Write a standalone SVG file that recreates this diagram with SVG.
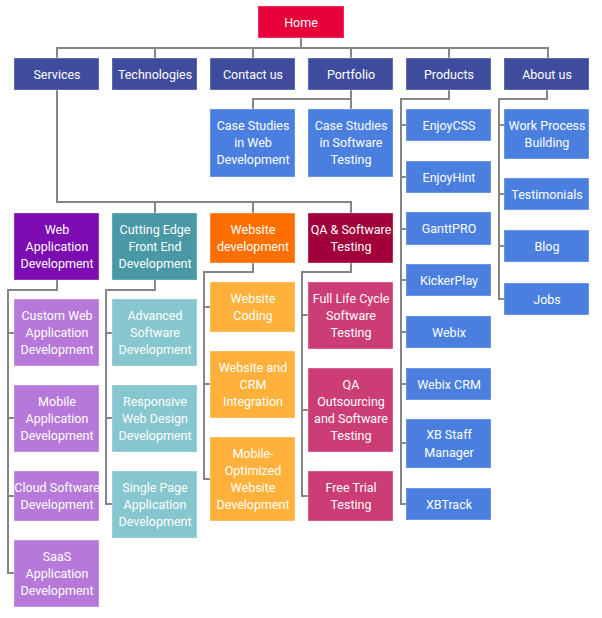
<svg xmlns="http://www.w3.org/2000/svg" width="602" height="618" viewBox="0 0 602 618">
<style>
rect{stroke:#ffffff;stroke-opacity:0.35;stroke-width:1}
text{font-family:Roboto,"Liberation Sans",sans-serif;font-size:12.5px;fill:#fff;text-anchor:middle}
.c path{fill:none;stroke:#858585;stroke-width:2}
.h{fill:#e8003a}.t{fill:#3f4c9d}.b{fill:#4a7fe0}
.p1{fill:#7c0bb1}.p2{fill:#b679d9}.q1{fill:#4898a5}.q2{fill:#86c6cf}
.o1{fill:#ff6f00}.o2{fill:#ffb13b}.m1{fill:#a2003a}.m2{fill:#cc3c75}
</style>
<g class="c">
<path d="M301 38V48M57 58V48H548V58M155 48V58M253 48V58M351 48V58M449 48V58"/>
<path d="M351 90V99H253V109M351 99V109"/>
<path d="M57 90V202H351V213M155 202V213M253 202V213"/>
<path d="M449 90V99H401V504H406M401 125H406M401 177H406M401 229H406M401 280H406M401 332H406M401 384H406M401 443H406"/>
<path d="M547 90V99H499V299H504M499 125H504M499 194H504M499 246H504"/>
<path d="M57 280V290H8V573H14M8 333H14M8 418H14M8 496H14"/>
<path d="M155 280V290H106V504H112M106 333H112M106 418H112"/>
<path d="M253 263V272H204V479H210M204 307H210M204 384H210"/>
<path d="M351 263V272H302V496H308M302 315H308M302 410H308"/>
</g>
<g id="home"><rect class="h" x="258" y="6" width="86" height="32"/><text x="301" y="27">Home</text></g>
<g id="services"><rect class="t" x="14" y="58" width="85" height="32"/><text x="57" y="79">Services</text></g>
<g id="technologies"><rect class="t" x="112" y="58" width="85" height="32"/><text x="155" y="79">Technologies</text></g>
<g id="contact"><rect class="t" x="210" y="58" width="85" height="32"/><text x="253" y="79">Contact us</text></g>
<g id="portfolio"><rect class="t" x="308" y="58" width="85" height="32"/><text x="351" y="79">Portfolio</text></g>
<g id="products"><rect class="t" x="406" y="58" width="85" height="32"/><text x="449" y="79">Products</text></g>
<g id="about"><rect class="t" x="504" y="58" width="85" height="32"/><text x="547" y="79">About us</text></g>
<g id="cs-web"><rect class="b" x="210" y="109" width="85" height="68"/><text x="253" y="130">Case Studies</text><text x="253" y="147">in Web</text><text x="253" y="164">Development</text></g>
<g id="cs-test"><rect class="b" x="308" y="109" width="85" height="68"/><text x="351" y="130">Case Studies</text><text x="351" y="147">in Software</text><text x="351" y="164">Testing</text></g>
<g id="enjoycss"><rect class="b" x="406" y="109" width="85" height="32"/><text x="449" y="130">EnjoyCSS</text></g>
<g id="enjoyhint"><rect class="b" x="406" y="161" width="85" height="32"/><text x="449" y="182">EnjoyHint</text></g>
<g id="ganttpro"><rect class="b" x="406" y="212" width="85" height="33"/><text x="449" y="233">GanttPRO</text></g>
<g id="kickerplay"><rect class="b" x="406" y="264" width="85" height="32"/><text x="449" y="285">KickerPlay</text></g>
<g id="webix"><rect class="b" x="406" y="316" width="85" height="32"/><text x="449" y="337">Webix</text></g>
<g id="webixcrm"><rect class="b" x="406" y="368" width="85" height="32"/><text x="449" y="389">Webix CRM</text></g>
<g id="xbstaff"><rect class="b" x="406" y="419" width="85" height="49"/><text x="449" y="439">XB Staff</text><text x="449" y="457">Manager</text></g>
<g id="xbtrack"><rect class="b" x="406" y="488" width="85" height="32"/><text x="449" y="509">XBTrack</text></g>
<g id="workprocess"><rect class="b" x="504" y="109" width="85" height="50"/><text x="547" y="130">Work Process</text><text x="547" y="147">Building</text></g>
<g id="testimonials"><rect class="b" x="504" y="178" width="85" height="32"/><text x="547" y="199">Testimonials</text></g>
<g id="blog"><rect class="b" x="504" y="230" width="85" height="32"/><text x="547" y="251">Blog</text></g>
<g id="jobs"><rect class="b" x="504" y="283" width="85" height="32"/><text x="547" y="304">Jobs</text></g>
<g id="webapp"><rect class="p1" x="14" y="213" width="85" height="67"/><text x="57" y="234">Web</text><text x="57" y="251">Application</text><text x="57" y="268">Development</text></g>
<g id="cutting"><rect class="q1" x="112" y="213" width="85" height="67"/><text x="155" y="234">Cutting Edge</text><text x="155" y="251">Front End</text><text x="155" y="268">Development</text></g>
<g id="websitedev"><rect class="o1" x="210" y="213" width="85" height="50"/><text x="253" y="234">Website</text><text x="253" y="251">development</text></g>
<g id="qa"><rect class="m1" x="308" y="213" width="85" height="50"/><text x="351" y="234">QA &amp; Software</text><text x="351" y="251">Testing</text></g>
<g id="customweb"><rect class="p2" x="14" y="299" width="85" height="67"/><text x="57" y="320">Custom Web</text><text x="57" y="337">Application</text><text x="57" y="354">Development</text></g>
<g id="mobileapp"><rect class="p2" x="14" y="385" width="85" height="67"/><text x="57" y="406">Mobile</text><text x="57" y="423">Application</text><text x="57" y="440">Development</text></g>
<g id="cloud"><rect class="p2" x="14" y="471" width="85" height="50"/><text x="57" y="492">Cloud Software</text><text x="57" y="509">Development</text></g>
<g id="saas"><rect class="p2" x="14" y="540" width="85" height="67"/><text x="57" y="561">SaaS</text><text x="57" y="578">Application</text><text x="57" y="595">Development</text></g>
<g id="advanced"><rect class="q2" x="112" y="299" width="85" height="67"/><text x="155" y="320">Advanced</text><text x="155" y="337">Software</text><text x="155" y="354">Development</text></g>
<g id="responsive"><rect class="q2" x="112" y="385" width="85" height="67"/><text x="155" y="406">Responsive</text><text x="155" y="423">Web Design</text><text x="155" y="440">Development</text></g>
<g id="singlepage"><rect class="q2" x="112" y="471" width="85" height="67"/><text x="155" y="492">Single Page</text><text x="155" y="509">Application</text><text x="155" y="526">Development</text></g>
<g id="coding"><rect class="o2" x="210" y="282" width="85" height="50"/><text x="253" y="303">Website</text><text x="253" y="320">Coding</text></g>
<g id="crm"><rect class="o2" x="210" y="351" width="85" height="67"/><text x="253" y="372">Website and</text><text x="253" y="389">CRM</text><text x="253" y="406">Integration</text></g>
<g id="mobileopt"><rect class="o2" x="210" y="437" width="85" height="84"/><text x="253" y="458">Mobile-</text><text x="253" y="475">Optimized</text><text x="253" y="492">Website</text><text x="253" y="509">Development</text></g>
<g id="fulllife"><rect class="m2" x="308" y="282" width="85" height="67"/><text x="351" y="303">Full Life Cycle</text><text x="351" y="320">Software</text><text x="351" y="337">Testing</text></g>
<g id="outsourcing"><rect class="m2" x="308" y="368" width="85" height="84"/><text x="351" y="389">QA</text><text x="351" y="406">Outsourcing</text><text x="351" y="423">and Software</text><text x="351" y="440">Testing</text></g>
<g id="freetrial"><rect class="m2" x="308" y="471" width="85" height="50"/><text x="351" y="492">Free Trial</text><text x="351" y="509">Testing</text></g>
</svg>
